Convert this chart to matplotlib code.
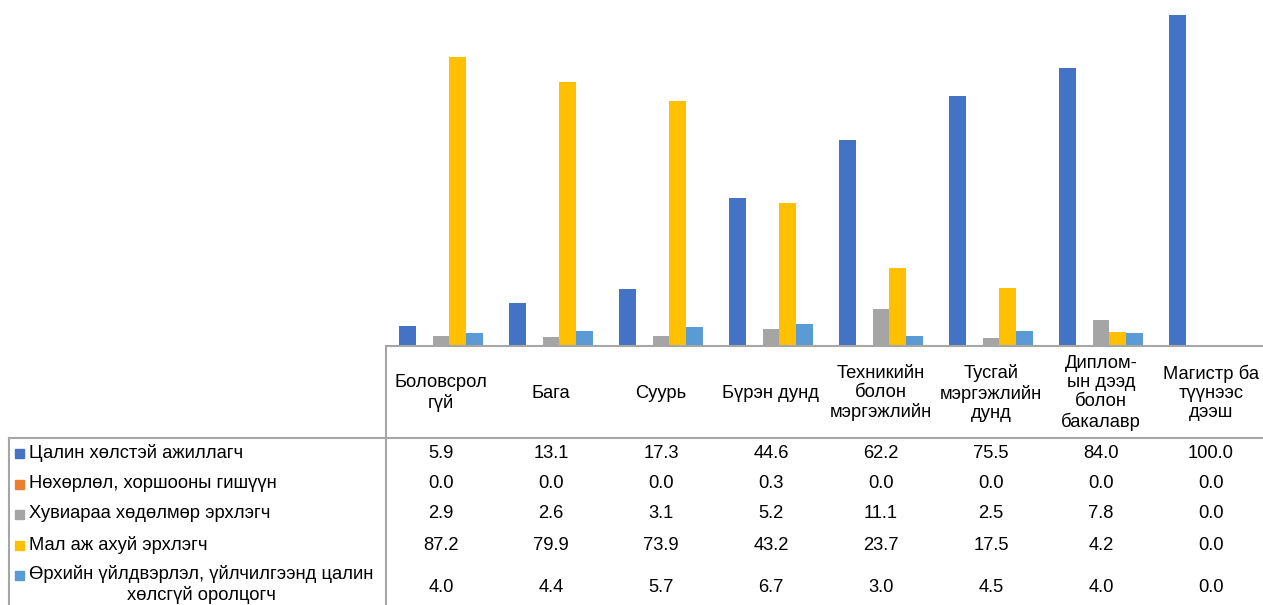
import matplotlib.pyplot as plt
import numpy as np
from matplotlib.transforms import blended_transform_factory
from matplotlib.lines import Line2D
from matplotlib.patches import Rectangle

plt.rcParams['font.family'] = ['Liberation Sans', 'DejaVu Sans']

categories = ['Боловсрол\nгүй', 'Бага', 'Суурь', 'Бүрэн дунд',
              'Техникийн\nболон\nмэргэжлийн', 'Тусгай\nмэргэжлийн\nдунд',
              'Диплом-\nын дээд\nболон\nбакалавр', 'Магистр ба\nтүүнээс\nдээш']
series_names = ['Цалин хөлстэй ажиллагч',
                'Нөхөрлөл, хоршооны гишүүн',
                'Хувиараа хөдөлмөр эрхлэгч',
                'Мал аж ахуй эрхлэгч',
                'Өрхийн үйлдвэрлэл, үйлчилгээнд цалин\nхөлсгүй оролцогч']
paid = [5.9, 13.1, 17.3, 44.6, 62.2, 75.5, 84.0, 100.0]
partner = [0.0, 0.0, 0.0, 0.3, 0.0, 0.0, 0.0, 0.0]
self_emp = [2.9, 2.6, 3.1, 5.2, 11.1, 2.5, 7.8, 0.0]
herder = [87.2, 79.9, 73.9, 43.2, 23.7, 17.5, 4.2, 0.0]
household = [4.0, 4.4, 5.7, 6.7, 3.0, 4.5, 4.0, 0.0]
colors = ['#4472C4', '#ED7D31', '#A5A5A5', '#FFC000', '#5B9BD5']

W, H = 1263, 605
fig = plt.figure(figsize=(W / 100, H / 100), dpi=100)

# plot area in pixel terms: x 386..1266, baseline y=346, 100 at y=15
ax = fig.add_axes([386 / W, (H - 346) / H, 880 / W, (346 - 15) / H])
ax.set_xlim(-0.5, 7.5)
ax.set_ylim(0, 100)
ax.axis('off')

x = np.arange(len(categories))
w = 0.1545
all_series = [paid, partner, self_emp, herder, household]
for k, vals in enumerate(all_series):
    ax.bar(x + (k - 2) * w, vals, w, color=colors[k], clip_on=False)

fs = 13.2
ls = 1.18
line_col = '#A6A6A6'

def fy(py):
    return (H - py) / H

def fx(px):
    return px / W

# table grid lines
fig.add_artist(Line2D([fx(386), 1], [fy(346), fy(346)], color=line_col, lw=1.5))
fig.add_artist(Line2D([fx(386), fx(386)], [fy(346), 0], color=line_col, lw=1.5))
fig.add_artist(Line2D([fx(9), 1], [fy(438), fy(438)], color=line_col, lw=1.5))
fig.add_artist(Line2D([fx(9), fx(9)], [fy(438), 0], color=line_col, lw=1.5))

tr = blended_transform_factory(ax.transData, fig.transFigure)

# category header row
for i, c in enumerate(categories):
    ax.text(i, fy(393), c, transform=tr, ha='center', va='center',
            fontsize=fs, linespacing=ls, clip_on=False)

# data rows
row_y = [453, 484, 514, 545, 587]
for k, vals in enumerate(all_series):
    for i, v in enumerate(vals):
        ax.text(i, fy(row_y[k]), f'{v:.1f}', transform=tr, ha='center',
                va='center', fontsize=fs, clip_on=False)
    # legend key + label
    ky = row_y[k] if k < 4 else 575
    fig.add_artist(Rectangle((fx(15), fy(ky) - 4.5 / H), 9 / W, 9 / H,
                             transform=fig.transFigure, color=colors[k]))
    if k < 4:
        fig.text(fx(29), fy(ky), series_names[k], ha='left', va='center',
                 fontsize=fs)
    else:
        fig.text(fx(29), fy(ky) + 10 / H, series_names[k], ha='left', va='top',
                 fontsize=fs, multialignment='center', linespacing=ls)

fig.savefig('out.png', dpi=100)
